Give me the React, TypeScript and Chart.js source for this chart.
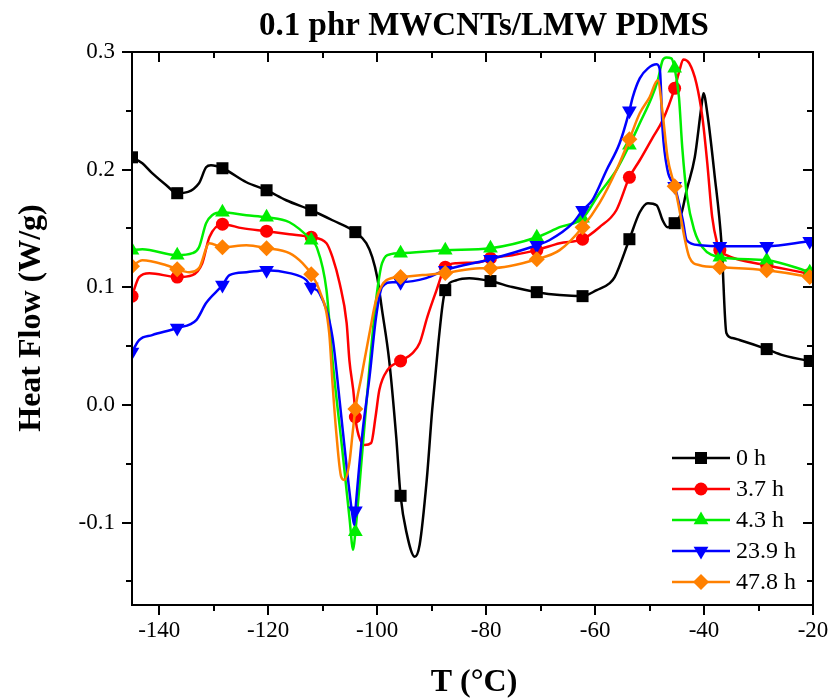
import React, { useEffect, useRef } from 'react';
import { Chart, registerables } from 'chart.js';

Chart.register(...registerables);

const TITLE = '0.1 phr MWCNTs/LMW PDMS';
const X_TITLE = 'T (°C)';
const Y_TITLE = 'Heat Flow (W/g)';

const X_MIN = -145;
const X_MAX = -20;
const Y_MIN = -0.17;
const Y_MAX = 0.3;
const X_TICKS = [-140, -120, -100, -80, -60, -40, -20];
const X_MINOR = [-130, -110, -90, -70, -50, -30];
const Y_TICKS = [-0.1, 0, 0.1, 0.2, 0.3];
const Y_MINOR = [-0.15, -0.05, 0.05, 0.15, 0.25];

const MARKER_T = [-145, -136.7, -128.4, -120.3, -112.1, -104, -95.7, -87.5, -79.2, -70.7, -62.3, -53.7, -45.4, -37.1, -28.5, -20.6];

const SERIES_LABELS = ['0 h', '3.7 h', '4.3 h', '23.9 h', '47.8 h'];
const SERIES_COLORS = ['#000000', '#ff0000', '#00ee00', '#0000ff', '#ff8000'];

const T_0 = [-145, -143.1, -141.3, -138.7, -136.7, -132.7, -131.4, -130.5, -128.4, -124.0, -120.3, -116.7, -112.1, -108.2, -104.0, -102.0, -100.9, -100.0, -99.1, -97.8, -96.5, -95.7, -94.6, -93.1, -92.2, -90.9, -89.9, -88.8, -88.0, -87.5, -85.4, -83.1, -79.2, -75.2, -70.7, -66.5, -62.3, -59.7, -57.3, -56.4, -53.7, -51.8, -50.3, -48.7, -47.6, -46.7, -45.4, -44.1, -43.2, -41.7, -40.5, -40.1, -39.4, -38.1, -36.8, -35.9, -34.8, -33.5, -28.5, -25.6, -20.6, -20];
const HF_0 = [0.2105, 0.2054, 0.197, 0.1868, 0.18, 0.1885, 0.202, 0.2037, 0.2012, 0.1893, 0.1825, 0.174, 0.1655, 0.157, 0.1469, 0.1375, 0.1256, 0.1087, 0.0806, 0.0382, -0.0272, -0.0772, -0.1087, -0.129, -0.1188, -0.0637, -0.0042, 0.0509, 0.0849, 0.0976, 0.1061, 0.1078, 0.1053, 0.1002, 0.0959, 0.0934, 0.0925, 0.0976, 0.1036, 0.1087, 0.1409, 0.1638, 0.1715, 0.1698, 0.157, 0.1511, 0.1545, 0.1638, 0.1825, 0.2105, 0.253, 0.2649, 0.2479, 0.1969, 0.1375, 0.0611, 0.0569, 0.0552, 0.0475, 0.0424, 0.0374, 0.037];

const T_37 = [-145, -143.7, -141.8, -136.7, -133.9, -132.1, -130.8, -128.4, -124.8, -120.3, -116.1, -112.1, -109.3, -108.2, -106.9, -105.6, -105.1, -104.2, -104.0, -103.3, -102.3, -101.1, -100.3, -99.6, -98.1, -95.7, -93.5, -92.2, -90.8, -89.1, -87.5, -85.4, -81.2, -79.2, -75.2, -70.7, -66.5, -62.3, -59.2, -56.1, -53.7, -51.8, -49.4, -47.6, -45.4, -44.5, -43.8, -42.7, -41.4, -40.3, -39.4, -38.5, -37.6, -37.1, -35.9, -28.5, -20.6, -20];
const HF_37 = [0.0925, 0.1087, 0.112, 0.1087, 0.1104, 0.1205, 0.1426, 0.1537, 0.1503, 0.1477, 0.1452, 0.1426, 0.1375, 0.1256, 0.1036, 0.0696, 0.0382, 0.0042, -0.0102, -0.0272, -0.034, -0.0323, -0.0102, 0.0127, 0.0297, 0.0374, 0.0441, 0.0526, 0.0747, 0.0976, 0.1171, 0.1205, 0.1214, 0.1248, 0.1273, 0.1316, 0.1375, 0.1409, 0.1511, 0.1655, 0.1935, 0.208, 0.2275, 0.2419, 0.2691, 0.2844, 0.2937, 0.2903, 0.2733, 0.2445, 0.2054, 0.1596, 0.1375, 0.1316, 0.1273, 0.1188, 0.1112, 0.1104];

const T_43 = [-145, -143.1, -136.7, -133.9, -132.7, -131.4, -130.3, -128.4, -124.0, -120.3, -116.1, -112.1, -111.1, -109.3, -108.2, -106.4, -105.1, -104.4, -104.0, -102.7, -101.4, -100.2, -99.1, -97.5, -95.7, -87.5, -79.2, -70.7, -66.5, -62.3, -59.2, -56.1, -53.7, -51.8, -49.6, -48.5, -47.6, -46.9, -46.0, -45.4, -44.6, -44.0, -43.1, -41.8, -40.3, -37.1, -28.5, -20.6, -20];
const HF_43 = [0.1316, 0.1324, 0.1273, 0.129, 0.1341, 0.1545, 0.1613, 0.1638, 0.1613, 0.1596, 0.1553, 0.1401, 0.1341, 0.0976, 0.0382, -0.0382, -0.0951, -0.1231, -0.1078, -0.0382, 0.0323, 0.0891, 0.1205, 0.1282, 0.129, 0.1316, 0.1333, 0.1426, 0.1511, 0.1587, 0.18, 0.1995, 0.2207, 0.2394, 0.2615, 0.2759, 0.2929, 0.2954, 0.2946, 0.2861, 0.2615, 0.219, 0.1766, 0.1486, 0.1341, 0.1256, 0.1231, 0.1129, 0.112];

const T_239 = [-145, -143.7, -141.3, -136.7, -133.2, -131.4, -128.4, -127.1, -124.0, -120.3, -116.1, -113.0, -112.1, -110.6, -108.2, -106.9, -105.6, -104.5, -104.2, -104.0, -102.7, -101.4, -100.2, -99.1, -97.2, -95.7, -91.0, -87.5, -79.2, -70.7, -68.4, -64.1, -62.3, -60.5, -57.9, -55.5, -53.7, -53.1, -51.8, -50.3, -48.7, -48.1, -47.6, -46.7, -45.4, -43.9, -43.2, -40.8, -37.1, -28.5, -20.6, -20];
const HF_239 = [0.045, 0.0552, 0.0594, 0.0654, 0.0722, 0.0866, 0.1019, 0.1104, 0.1129, 0.1146, 0.1121, 0.1061, 0.1002, 0.0951, 0.0577, 0.0042, -0.0526, -0.0951, -0.1019, -0.09, -0.0238, 0.0238, 0.0747, 0.1002, 0.1044, 0.1044, 0.1078, 0.1146, 0.1239, 0.1358, 0.14, 0.1545, 0.1655, 0.174, 0.1995, 0.2224, 0.25, 0.2615, 0.2776, 0.2861, 0.2895, 0.2844, 0.2334, 0.1995, 0.1859, 0.157, 0.14, 0.1358, 0.135, 0.135, 0.1392, 0.1395];

const T_478 = [-145, -143.1, -138.7, -136.7, -134.5, -132.7, -130.8, -128.4, -124.0, -120.3, -116.1, -113.7, -112.1, -110.6, -108.8, -108.2, -107.5, -106.6, -106.0, -105.1, -104.5, -104.0, -102.9, -101.4, -100.2, -98.3, -95.7, -91.7, -87.5, -81.2, -79.2, -70.7, -66.5, -62.3, -59.2, -56.1, -53.7, -51.8, -50.0, -48.5, -47.6, -46.7, -45.4, -44.5, -43.6, -42.7, -40.8, -37.1, -28.5, -20.6, -20];
const HF_478 = [0.118, 0.1231, 0.1188, 0.1154, 0.1129, 0.1163, 0.1375, 0.1341, 0.1358, 0.1333, 0.129, 0.1205, 0.1112, 0.0976, 0.0611, 0.0187, -0.0238, -0.0611, -0.0637, -0.0492, -0.0238, -0.0034, 0.0238, 0.0611, 0.0891, 0.1061, 0.1087, 0.1104, 0.1121, 0.1163, 0.1163, 0.1239, 0.1316, 0.1511, 0.1715, 0.1995, 0.2258, 0.2479, 0.2615, 0.2759, 0.2479, 0.2105, 0.1859, 0.1655, 0.1426, 0.1256, 0.1188, 0.1171, 0.1146, 0.1087, 0.108];

const SERIES_T = [T_0, T_37, T_43, T_239, T_478];
const SERIES_HF = [HF_0, HF_37, HF_43, HF_239, HF_478];
const SERIES_STYLE = ['rect', 'circle', 'triangle', 'triangle', 'rectRot'];
const SERIES_ROT = [0, 0, 0, 180, 0];
const SERIES_RADIUS = [8.5, 6.5, 8.5, 8.5, 8];

const SERIF = '"Liberation Serif", "Times New Roman", serif';

function drawMarker(ctx: CanvasRenderingContext2D, i: number, x: number, y: number) {
  ctx.save();
  ctx.fillStyle = SERIES_COLORS[i];
  ctx.beginPath();
  if (i === 0) {
    ctx.rect(x - 6, y - 6, 12, 12);
  } else if (i === 1) {
    ctx.arc(x, y, 6.5, 0, Math.PI * 2);
  } else if (i === 2) {
    ctx.moveTo(x, y - 8.5);
    ctx.lineTo(x + 7.4, y + 4.25);
    ctx.lineTo(x - 7.4, y + 4.25);
  } else if (i === 3) {
    ctx.moveTo(x, y + 8.5);
    ctx.lineTo(x + 7.4, y - 4.25);
    ctx.lineTo(x - 7.4, y - 4.25);
  } else {
    ctx.moveTo(x, y - 8);
    ctx.lineTo(x + 8, y);
    ctx.lineTo(x, y + 8);
    ctx.lineTo(x - 8, y);
  }
  ctx.closePath();
  ctx.fill();
  ctx.restore();
}

const framePlugin = {
  id: 'framePlugin',
  afterDatasetsDraw(chart: any) {
    const ctx = chart.ctx as CanvasRenderingContext2D;
    const { left, right, top, bottom } = chart.chartArea;
    const xs = chart.scales.x;
    const ys = chart.scales.y;
    ctx.save();
    ctx.strokeStyle = '#000';
    ctx.lineWidth = 2;
    ctx.strokeRect(left, top, right - left, bottom - top);
    ctx.beginPath();
    const tick = (vals: number[], len: number, horiz: boolean) => {
      vals.forEach((v) => {
        if (horiz) {
          const px = Math.round(xs.getPixelForValue(v));
          ctx.moveTo(px, bottom);
          ctx.lineTo(px, bottom + len);
          ctx.moveTo(px, top);
          ctx.lineTo(px, top + len);
        } else {
          const py = Math.round(ys.getPixelForValue(v));
          ctx.moveTo(left, py);
          ctx.lineTo(left - len, py);
          ctx.moveTo(right, py);
          ctx.lineTo(right - len, py);
        }
      });
    };
    tick(X_TICKS, 10, true);
    tick(X_MINOR, 6, true);
    tick(Y_TICKS, 10, false);
    tick(Y_MINOR, 6, false);
    ctx.stroke();
    ctx.restore();
  },
  afterDraw(chart: any) {
    const ctx = chart.ctx as CanvasRenderingContext2D;
    ctx.save();
    ctx.fillStyle = '#000';
    ctx.textAlign = 'center';
    ctx.textBaseline = 'middle';
    ctx.font = `bold 33px ${SERIF}`;
    ctx.fillText(TITLE, 484, 26);
    ctx.font = `bold 32px ${SERIF}`;
    ctx.fillText(X_TITLE, 474, 683);
    ctx.save();
    ctx.translate(32, 318);
    ctx.rotate(-Math.PI / 2);
    ctx.fillText(Y_TITLE, 0, 0);
    ctx.restore();

    // legend
    ctx.font = `24px ${SERIF}`;
    ctx.textAlign = 'left';
    SERIES_LABELS.forEach((lab, i) => {
      const y = 458 + i * 31;
      ctx.strokeStyle = SERIES_COLORS[i];
      ctx.lineWidth = 2.5;
      ctx.beginPath();
      ctx.moveTo(672, y);
      ctx.lineTo(730, y);
      ctx.stroke();
      drawMarker(ctx, i, 701, y);
      ctx.fillStyle = '#000';
      ctx.fillText(lab, 736, y + 1);
    });
    ctx.restore();
  },
};

export default function App() {
  const canvasRef = useRef<HTMLCanvasElement | null>(null);

  useEffect(() => {
    if (!canvasRef.current) return;
    const datasets = SERIES_LABELS.map((label, i) => ({
      label,
      data: SERIES_T[i].map((t, k) => ({ x: t, y: SERIES_HF[i][k] })),
      borderColor: SERIES_COLORS[i],
      backgroundColor: SERIES_COLORS[i],
      pointBackgroundColor: SERIES_COLORS[i],
      pointBorderColor: SERIES_COLORS[i],
      pointBorderWidth: 0,
      borderWidth: 2.5,
      pointStyle: SERIES_STYLE[i],
      rotation: SERIES_ROT[i],
      pointRotation: SERIES_ROT[i],
      pointRadius: (c: any) => (c.raw && MARKER_T.includes(c.raw.x) ? SERIES_RADIUS[i] : 0),
      pointHoverRadius: 0,
      cubicInterpolationMode: 'monotone' as const,
      fill: false,
      order: 5 - i,
    }));

    const chart = new Chart(canvasRef.current, {
      type: 'line',
      data: { datasets },
      options: {
        animation: false,
        responsive: false,
        maintainAspectRatio: false,
        events: [],
        layout: { padding: { left: 0, right: 18, top: 52, bottom: 0 } },
        plugins: {
          legend: { display: false },
          title: { display: false },
          tooltip: { enabled: false },
        },
        scales: {
          x: {
            type: 'linear',
            min: X_MIN,
            max: X_MAX,
            grid: { display: false, drawTicks: false },
            border: { display: false },
            afterBuildTicks: (s: any) => {
              s.ticks = X_TICKS.map((v) => ({ value: v }));
            },
            afterFit: (s: any) => {
              s.height = 95;
              s.paddingLeft = 0;
              s.paddingRight = 0;
            },
            ticks: {
              color: '#000',
              font: { family: SERIF, size: 23 },
              padding: 12,
              maxRotation: 0,
              autoSkip: false,
              callback: (v: any) => String(v),
            },
          },
          y: {
            type: 'linear',
            min: Y_MIN,
            max: Y_MAX,
            grid: { display: false, drawTicks: false },
            border: { display: false },
            afterBuildTicks: (s: any) => {
              s.ticks = Y_TICKS.map((v) => ({ value: v }));
            },
            afterFit: (s: any) => {
              s.width = 132;
              s.paddingTop = 0;
              s.paddingBottom = 0;
            },
            ticks: {
              color: '#000',
              font: { family: SERIF, size: 23 },
              padding: 17,
              autoSkip: false,
              callback: (v: any) => Number(v).toFixed(1),
            },
          },
        },
      },
      plugins: [framePlugin],
    });
    return () => chart.destroy();
  }, []);

  return (
    <div style={{ position: 'absolute', left: 0, top: 0, width: 831, height: 700, background: '#fff' }}>
      <canvas ref={canvasRef} width={831} height={700} />
    </div>
  );
}
